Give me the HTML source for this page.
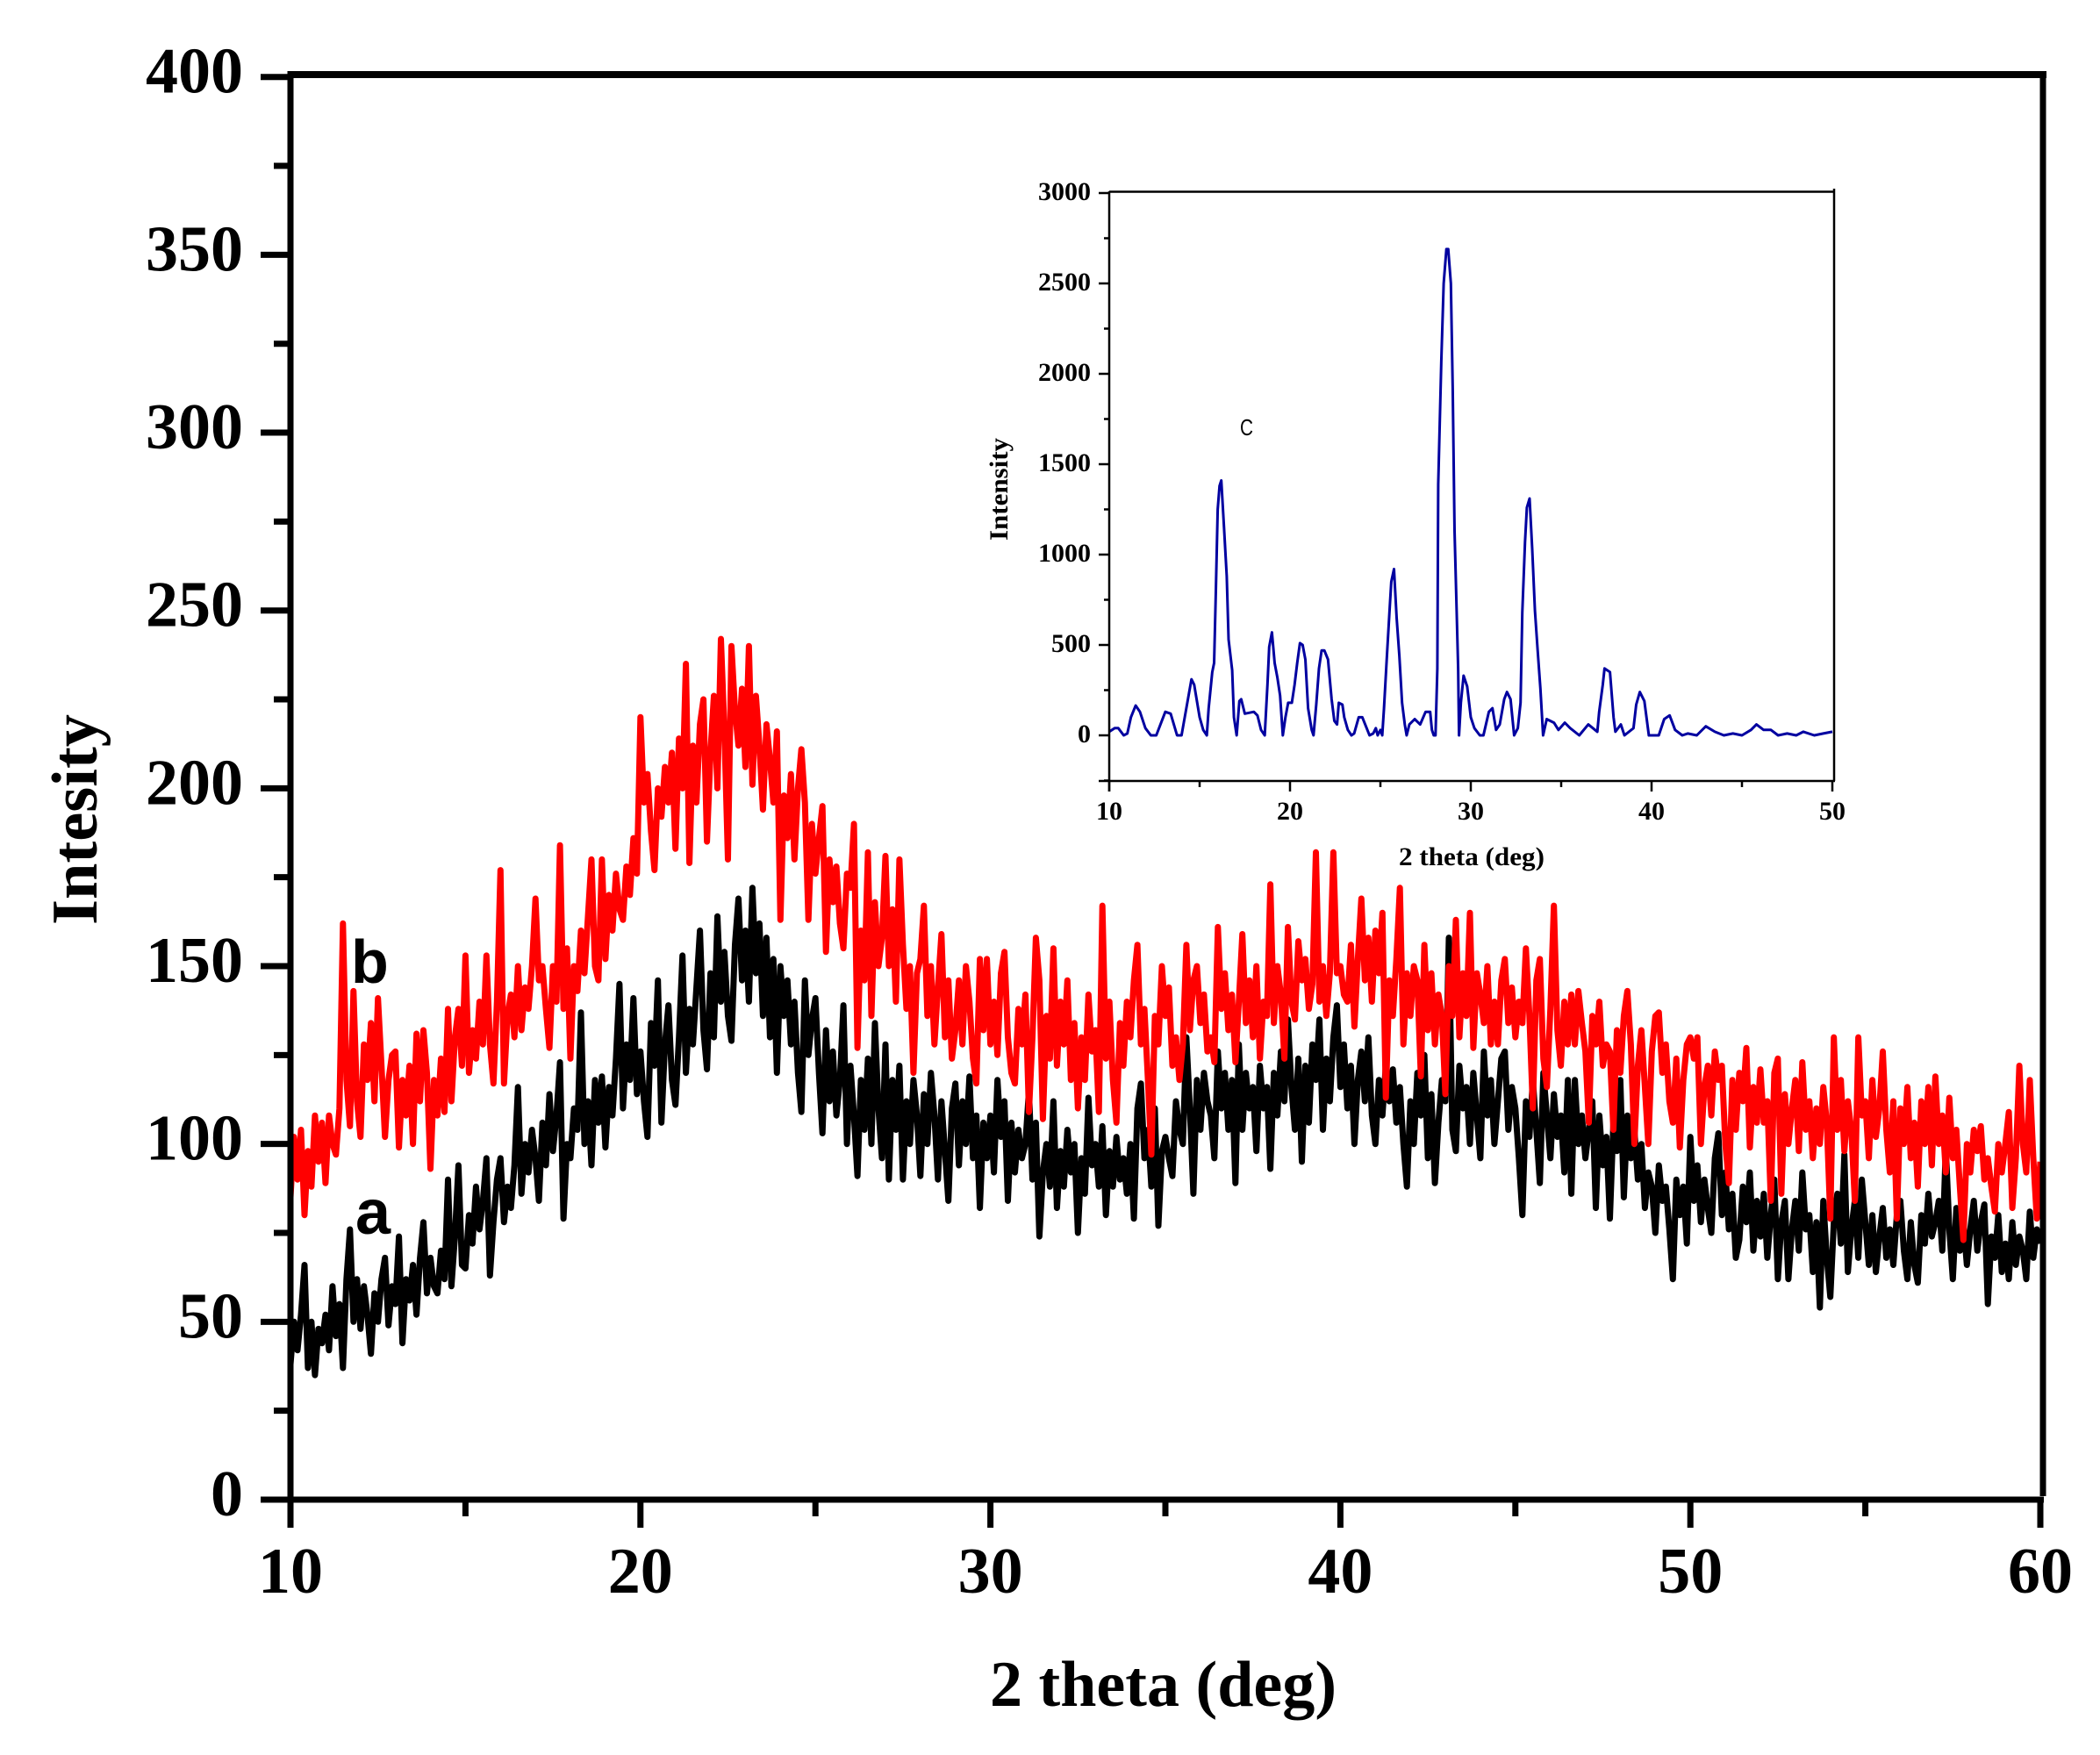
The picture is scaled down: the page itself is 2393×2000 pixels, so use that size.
<!DOCTYPE html>
<html lang="en">
<head>
<meta charset="utf-8">
<title>XRD patterns: 2 theta vs intensity</title>
<style>
  html, body { margin: 0; padding: 0; background: #fff; }
  svg { display: block; }
  text { font-family: "Liberation Serif", serif; font-weight: bold; fill: #000; }
</style>
</head>
<body>
<svg id="chart" xmlns="http://www.w3.org/2000/svg" width="2393" height="2000" viewBox="0 0 2393 2000">
  <rect x="0" y="0" width="2393" height="2000" fill="#fff"/>
  <g id="main-marks"></g>
  <g id="main-axes"></g>
  <g id="inset-marks"></g>
  <g id="inset-axes"></g>

  <text x="1128" y="1944" font-size="74" textLength="395" lengthAdjust="spacingAndGlyphs">2 theta (deg)</text>
  <text transform="translate(110 1054) rotate(-90)" font-size="74" textLength="240" lengthAdjust="spacingAndGlyphs">Intesity</text>
  <text x="400" y="1120" font-size="70" style="font-family:'Liberation Sans',sans-serif">b</text>
  <text x="405" y="1406" font-size="72" style="font-family:'Liberation Sans',sans-serif">a</text>

  <text x="1594" y="986" font-size="30" textLength="166" lengthAdjust="spacingAndGlyphs">2 theta (deg)</text>
  <text transform="translate(1148 616) rotate(-90)" font-size="30" textLength="117" lengthAdjust="spacingAndGlyphs">Intensity</text>
  <text x="1413" y="496" font-size="26" textLength="15" lengthAdjust="spacingAndGlyphs" style="font-family:'Liberation Sans',sans-serif;font-weight:normal">C</text>
</svg>

<script>
// Main plot: tick labels
const mainXTicks = [10, 20, 30, 40, 50, 60];
const mainXMinorTicks = [15, 25, 35, 45, 55];
const mainYTicks = [0, 50, 100, 150, 200, 250, 300, 350, 400];
const mainYMinorTicks = [25, 75, 125, 175, 225, 275, 325, 375];

// Main plot: one reading every 0.1 deg starting at 10 deg
const mainStartDeg = 10;
const mainStepDeg = 0.1;

const seriesA = [
  38,50,42,52,66,37,50,35,48,44,52,42,60,46,55,37,62,76,50,62,48,60,52,41,58,50,62,68,49,60,
  55,74,44,62,56,66,52,68,78,58,68,60,58,70,62,90,60,74,94,66,65,80,72,88,76,84,96,63,78,90,
  96,78,88,82,94,116,86,100,92,104,96,84,106,94,114,98,108,123,79,100,96,110,104,137,100,112,94,118,106,119,
  99,116,108,124,145,110,128,118,141,114,126,112,102,134,122,146,106,128,139,118,111,130,153,120,138,128,144,160,132,121,
  148,130,164,140,154,136,129,156,169,146,160,140,172,148,162,136,158,130,152,120,150,136,146,128,140,120,109,146,125,135,
  141,120,103,132,112,126,108,118,139,100,122,108,91,118,104,124,100,134,110,96,128,90,118,104,122,90,112,100,118,108,
  91,114,100,120,108,90,112,98,84,110,117,94,112,100,119,96,108,82,106,96,108,92,118,102,112,84,106,92,104,96,
  100,115,90,106,74,92,100,88,112,82,98,88,104,92,100,75,96,86,113,94,100,88,105,80,98,88,102,90,96,86,
  100,79,110,117,96,104,88,110,77,98,102,96,91,112,104,100,130,110,86,118,104,120,112,108,96,126,110,120,104,118,
  89,128,104,120,110,116,98,122,110,116,93,120,108,126,112,135,116,104,124,95,122,106,128,118,135,104,124,112,130,139,
  116,128,110,122,100,118,126,112,130,108,100,118,108,122,112,121,106,116,100,88,112,100,120,108,125,96,114,89,106,118,
  112,158,104,98,122,110,116,100,120,108,96,126,108,118,100,112,124,126,104,116,110,96,80,112,102,118,104,89,120,108,
  96,114,102,108,92,118,86,118,100,108,96,104,112,82,108,94,102,79,106,98,118,85,108,96,104,90,100,82,92,88,
  75,94,84,88,76,62,90,80,88,72,102,84,94,78,90,82,75,96,103,80,92,76,86,68,73,88,78,92,70,84,
  74,86,68,80,90,62,78,84,62,76,84,70,92,76,80,64,78,54,84,68,57,78,86,72,97,64,76,84,68,90,
  78,66,80,64,74,82,68,76,66,80,84,70,62,78,66,61,80,72,86,74,78,84,70,99,76,62,82,70,78,66,
  76,84,70,78,83,55,74,68,80,64,72,62,78,66,74,70,62,81,68,76,72
];

const seriesB = [
  85,102,90,104,80,98,88,108,95,106,89,108,100,97,110,162,118,105,143,112,102,128,118,134,112,141,122,102,118,125,
  126,99,118,108,122,100,131,112,132,120,93,118,108,124,109,138,112,130,138,122,153,120,132,124,140,128,153,128,117,140,
  177,117,136,142,130,150,132,144,138,150,169,146,150,138,127,150,140,184,138,155,124,150,143,160,148,164,180,150,146,180,
  152,170,160,176,166,163,178,170,186,176,220,196,204,188,177,200,192,206,196,210,183,214,200,235,179,212,196,218,225,185,
  210,226,200,242,216,180,240,222,212,228,206,240,201,226,212,194,218,208,196,216,163,198,186,204,180,200,211,196,163,190,
  176,186,195,154,180,168,178,162,155,176,172,190,127,160,146,182,136,168,150,158,181,150,166,140,180,156,138,150,120,148,
  152,167,136,150,128,144,159,130,146,124,132,146,128,150,140,124,117,152,132,152,128,140,125,148,154,130,120,117,138,128,
  142,109,130,158,146,107,136,124,155,122,140,128,146,118,134,110,130,118,142,126,132,109,167,124,140,118,106,134,122,140,
  130,146,156,128,138,118,97,136,128,150,136,144,122,130,118,128,156,132,146,150,134,142,126,130,123,161,138,148,132,142,
  123,140,159,134,146,130,150,124,140,136,173,134,150,142,124,161,140,135,157,146,152,138,145,182,140,150,136,148,182,148,
  150,142,140,156,133,152,169,146,158,140,160,148,165,113,146,136,152,172,128,148,136,150,146,119,156,132,148,128,142,136,
  114,150,136,163,130,148,136,165,127,148,142,134,150,128,140,128,146,152,134,144,130,140,134,155,136,110,146,152,124,116,
  138,167,132,122,140,128,142,128,143,134,126,106,136,128,140,122,128,126,104,132,120,136,143,128,100,122,132,116,100,126,
  136,137,120,128,112,106,124,99,118,128,130,124,130,100,116,122,108,126,118,122,100,89,118,104,120,112,127,99,116,106,
  121,106,112,84,120,124,86,114,100,110,118,98,123,104,112,96,110,100,116,106,79,130,104,118,98,112,104,84,130,108,
  112,96,118,102,110,126,104,92,112,79,110,100,116,96,106,88,112,100,116,94,119,100,108,92,113,96,104,88,73,100,
  92,104,98,105,90,96,88,81,100,92,100,109,82,96,122,100,92,118,96,79,95
];

// Inset plot: tick labels
const insetXTicks = [10, 20, 30, 40, 50];
const insetXMinorTicks = [15, 25, 35, 45];
const insetYTicks = [0, 500, 1000, 1500, 2000, 2500, 3000];
const insetYMinorTicks = [-250, 250, 750, 1250, 1750, 2250, 2750];

// Inset plot: curve c
const insetDeg = [
  10,10.3,10.5,10.8,11,11.2,11.46,11.7,12,12.3,12.6,13.1,13.4,13.75,14,14.55,14.7,15,15.2,15.4,
  15.5,15.7,15.8,15.9,16,16.1,16.2,16.35,16.5,16.6,16.8,16.9,17.05,17.2,17.3,17.5,18,18.2,18.4,18.6,
  18.75,18.85,19,19.15,19.3,19.45,19.6,19.75,19.9,20.1,20.25,20.4,20.55,20.7,20.85,21,21.2,21.3,21.45,21.6,
  21.75,21.9,22.1,22.3,22.45,22.6,22.7,22.9,23,23.2,23.4,23.55,23.8,24,24.2,24.4,24.6,24.75,24.85,25,
  25.1,25.2,25.35,25.5,25.6,25.75,25.9,26.05,26.2,26.35,26.45,26.6,26.9,27.2,27.5,27.75,27.85,27.95,28.05,28.15,
  28.2,28.37,28.5,28.65,28.75,28.9,29,29.1,29.3,29.35,29.45,29.6,29.8,30,30.2,30.5,30.7,31,31.2,31.4,
  31.6,31.85,32,32.2,32.4,32.6,32.75,32.85,33,33.1,33.25,33.4,33.55,33.7,33.85,34,34.2,34.6,34.85,35.2,
  35.5,36,36.5,37,37.1,37.3,37.4,37.7,37.9,38,38.3,38.5,39,39.15,39.35,39.6,39.85,40,40.4,40.7,
  41,41.3,41.7,42,42.5,43,43.5,44,44.5,45,45.5,45.8,46.2,46.6,47,47.5,48,48.4,49,49.5,50
];
const insetIntensity = [
  20,40,40,0,10,100,165,130,40,0,0,130,120,0,0,310,280,100,30,0,
  150,350,400,800,1250,1380,1410,1150,880,530,360,100,0,190,200,120,130,110,30,0,
  280,490,570,400,320,220,0,100,180,180,280,400,510,500,420,150,30,0,170,370,
  470,470,420,200,80,60,180,170,100,30,0,10,100,100,50,0,10,40,0,30,
  0,150,420,680,850,920,650,440,180,60,0,60,90,60,130,130,30,0,0,370,
  1390,2070,2500,2690,2690,2500,1920,1130,370,0,180,330,270,100,40,0,0,130,150,30,
  60,200,240,200,0,40,180,680,1070,1260,1310,1030,690,470,260,0,90,70,30,70,
  40,0,60,20,130,280,370,350,100,20,60,0,40,170,240,190,0,0,0,90,
  110,30,0,10,0,50,20,0,10,0,30,60,30,30,0,10,0,20,0,10,20
];

// Axis functions
function xMain(v) { return 331 + (v - 10) * (2325 - 331) / 50; }
function yMain(v) { return 1709 - v * (1709 - 87.7) / 400; }
function xInset(v) { return 1264 + (v - 10) * (2088 - 1264) / 40; }
function yInset(v) { return 838 - v * (838 - 220) / 3000; }

const NS = 'http://www.w3.org/2000/svg';
const mainAxes = document.getElementById('main-axes');
const mainMarks = document.getElementById('main-marks');
const insetAxes = document.getElementById('inset-axes');
const insetMarks = document.getElementById('inset-marks');

function drawLine(parent, x1, y1, x2, y2, width) {
  const el = document.createElementNS(NS, 'line');
  el.setAttribute('x1', x1);
  el.setAttribute('y1', y1);
  el.setAttribute('x2', x2);
  el.setAttribute('y2', y2);
  el.setAttribute('stroke', '#000');
  el.setAttribute('stroke-width', width);
  parent.appendChild(el);
  return el;
}

function drawLabel(parent, x, y, size, anchor, content) {
  const el = document.createElementNS(NS, 'text');
  el.setAttribute('x', x);
  el.setAttribute('y', y);
  el.setAttribute('font-size', size);
  el.setAttribute('text-anchor', anchor);
  el.textContent = content;
  parent.appendChild(el);
  return el;
}

function pointsFromSeries(values) {
  return values.map(function (v, i) {
    return xMain(mainStartDeg + i * mainStepDeg).toFixed(1) + ',' + yMain(v).toFixed(1);
  }).join(' ');
}

// Main series
const lineA = document.createElementNS(NS, 'polyline');


lineA.setAttribute('points', pointsFromSeries(seriesA));
lineA.setAttribute('fill', 'none');
lineA.setAttribute('stroke', '#000');
lineA.setAttribute('stroke-width', '7');
lineA.setAttribute('stroke-linejoin', 'round');
mainMarks.appendChild(lineA);

const lineB = document.createElementNS(NS, 'polyline');


lineB.setAttribute('points', pointsFromSeries(seriesB));
lineB.setAttribute('fill', 'none');
lineB.setAttribute('stroke', '#ff0000');
lineB.setAttribute('stroke-width', '7');
lineB.setAttribute('stroke-linejoin', 'round');
mainMarks.appendChild(lineB);

// Main frame
const mainLeft = drawLine(mainAxes, 331, 81, 331, 1741, 7);


const mainBottom = drawLine(mainAxes, 297, 1709, 2329, 1709, 7);


const mainTop = drawLine(mainAxes, 328, 85, 2332, 85, 8);


const mainRight = drawLine(mainAxes, 2328, 81, 2328, 1705, 7);



mainXTicks.forEach(function (v) {
  const tick = drawLine(mainAxes, xMain(v), 1709, xMain(v), 1741, 7);
  
  
  const label = drawLabel(mainAxes, xMain(v), 1815, 74, 'middle', String(v));
  
  
});
mainXMinorTicks.forEach(function (v) {
  const tick = drawLine(mainAxes, xMain(v), 1709, xMain(v), 1728, 7);
  
  
});
mainYTicks.forEach(function (v) {
  const tick = drawLine(mainAxes, 297, yMain(v), 331, yMain(v), 7);
  
  
  const label = drawLabel(mainAxes, 277, yMain(v) + 18, 74, 'end', String(v));
  
  
});
mainYMinorTicks.forEach(function (v) {
  const tick = drawLine(mainAxes, 312, yMain(v), 331, yMain(v), 7);
  
  
});

// Inset curve
const insetLine = document.createElementNS(NS, 'polyline');


insetLine.setAttribute('points', insetDeg.map(function (d, i) {
  return xInset(d).toFixed(1) + ',' + yInset(insetIntensity[i]).toFixed(1);
}).join(' '));
insetLine.setAttribute('fill', 'none');
insetLine.setAttribute('stroke', '#0000a0');
insetLine.setAttribute('stroke-width', '3');
insetLine.setAttribute('stroke-linejoin', 'round');
insetMarks.appendChild(insetLine);

// Inset frame
const insetLeft = drawLine(insetAxes, 1264, 218, 1264, 902, 2.5);


const insetBottom = drawLine(insetAxes, 1252, 890, 2091, 890, 2.5);


const insetTop = drawLine(insetAxes, 1264, 218.5, 2091, 218.5, 2.5);


const insetRight = drawLine(insetAxes, 2090, 215, 2090, 890, 2.5);



insetXTicks.forEach(function (v) {
  const tick = drawLine(insetAxes, xInset(v), 890, xInset(v), 902, 2.5);
  
  
  const label = drawLabel(insetAxes, xInset(v), 934, 30, 'middle', String(v));
  
  
});
insetXMinorTicks.forEach(function (v) {
  const tick = drawLine(insetAxes, xInset(v), 890, xInset(v), 897, 2.5);
  
  
});
insetYTicks.forEach(function (v) {
  const tick = drawLine(insetAxes, 1252, yInset(v), 1264, yInset(v), 2.5);
  
  
  const label = drawLabel(insetAxes, 1243, yInset(v) + 8, 30, 'end', String(v));
  
  
});
insetYMinorTicks.forEach(function (v) {
  const tick = drawLine(insetAxes, 1258, yInset(v), 1264, yInset(v), 2.5);
  
  
});
</script>
</body>
</html>
